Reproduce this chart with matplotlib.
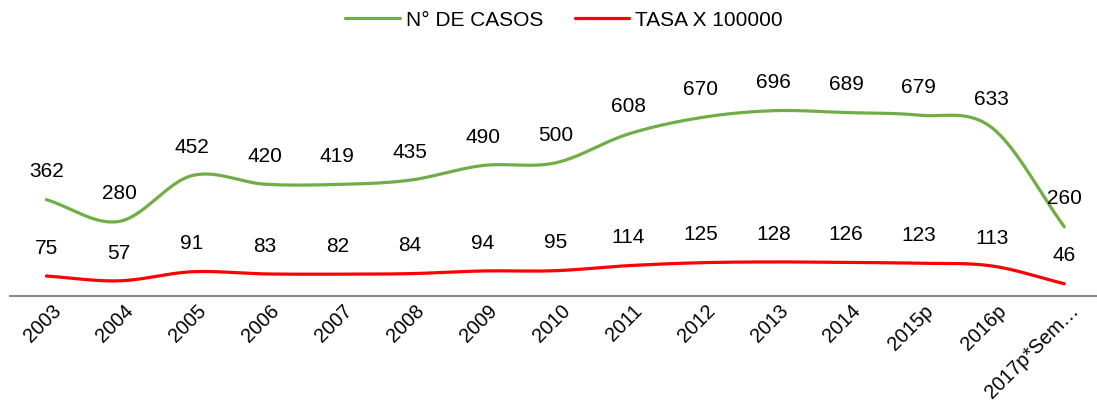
import numpy as np
import matplotlib
matplotlib.use("Agg")
import matplotlib.pyplot as plt
import matplotlib.transforms as mtransforms

years = ["2003", "2004", "2005", "2006", "2007", "2008", "2009", "2010",
         "2011", "2012", "2013", "2014", "2015p", "2016p", "2017p*Sem…"]
casos = [362, 280, 452, 420, 419, 435, 490, 500, 608, 670, 696, 689, 679, 633, 260]
tasa = [75, 57, 91, 83, 82, 84, 94, 95, 114, 125, 128, 126, 123, 113, 46]

plt.rcParams['font.family'] = ['Liberation Sans', 'DejaVu Sans']


def smooth(y, n=40):
    # Catmull-Rom style smoothing similar to spreadsheet "smoothed line"
    y = np.asarray(y, float)
    x = np.arange(len(y), dtype=float)
    xs, ys = [], []
    for i in range(len(y) - 1):
        p0 = y[i - 1] if i > 0 else y[i]
        p1, p2 = y[i], y[i + 1]
        p3 = y[i + 2] if i + 2 < len(y) else y[i + 1]
        t = np.linspace(0, 1, n, endpoint=False)
        m1 = (p2 - p0) / (2 if i > 0 else 1)
        m2 = (p3 - p1) / (2 if i + 2 < len(y) else 1)
        h00 = 2 * t**3 - 3 * t**2 + 1
        h10 = t**3 - 2 * t**2 + t
        h01 = -2 * t**3 + 3 * t**2
        h11 = t**3 - t**2
        ys.append(h00 * p1 + h10 * m1 + h01 * p2 + h11 * m2)
        xs.append(x[i] + t)
    xs.append([x[-1]])
    ys.append([y[-1]])
    return np.concatenate(xs), np.concatenate(ys)


W, H = 1097, 401
fig = plt.figure(figsize=(W / 100, H / 100), dpi=100)
ax = fig.add_axes([10 / W, 1 - 296 / H, 1087 / W, (296 - 83) / H])

green = "#70AD47"
red = "#FF0000"
FS = 15
xg, yg = smooth(casos)
xr, yr = smooth(tasa)
ax.plot(xg, yg, color=green, lw=2.3, solid_capstyle='round', label="N° DE CASOS")
ax.plot(xr, yr, color=red, lw=2.3, solid_capstyle='round', label="TASA X 100000")

for i, v in enumerate(casos):
    ax.annotate(str(v), (i, v), xytext=(0, 20), textcoords='offset points',
                ha='center', va='center', fontsize=FS, color='#000000')
for i, v in enumerate(tasa):
    ax.annotate(str(v), (i, v), xytext=(0, 20), textcoords='offset points',
                ha='center', va='center', fontsize=FS, color='#000000')

ax.set_xlim(-0.5, 14.45)
ax.set_ylim(0, 800)
ax.set_yticks([])
ax.set_xticks(range(len(years)))
ax.set_xticklabels(years, rotation=45, ha='right', va='top',
                   rotation_mode='anchor', fontsize=14.3)
ax.tick_params(axis='x', length=0, pad=4)
shift = mtransforms.ScaledTranslation(5 / 100, 0, fig.dpi_scale_trans)
for lbl in ax.get_xticklabels():
    lbl.set_transform(lbl.get_transform() + shift)
for s in ['top', 'right', 'left']:
    ax.spines[s].set_visible(False)
ax.spines['bottom'].set_color('#898989')
ax.spines['bottom'].set_linewidth(1.5)

fig.legend(loc='center', bbox_to_anchor=(564 / W, 1 - 20 / H), ncol=2,
           frameon=False, fontsize=FS, handlelength=2.6, columnspacing=1.5,
           handletextpad=0.3)

fig.savefig("out.png", dpi=100)
